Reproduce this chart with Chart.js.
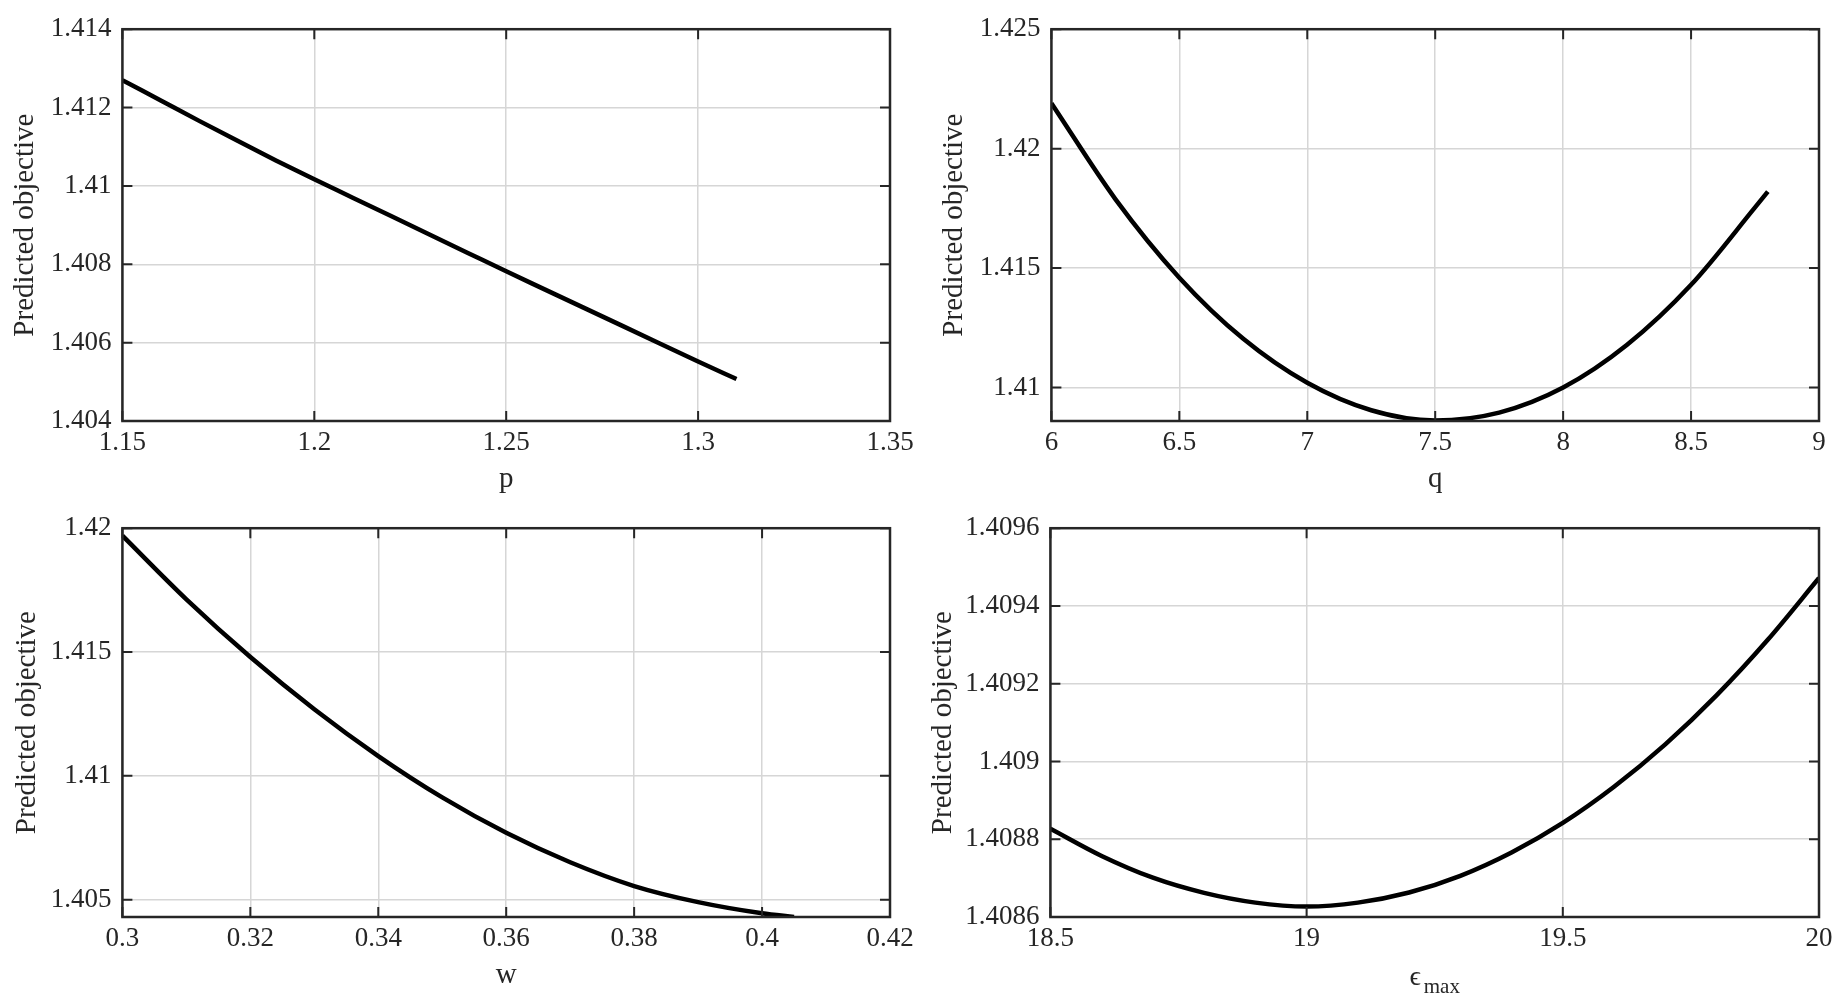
<!DOCTYPE html>
<html>
<head>
<meta charset="utf-8">
<script src="https://cdn.jsdelivr.net/npm/chart.js@4.4.1/dist/chart.umd.min.js"></script>
<style>
  html, body { margin: 0; padding: 0; background: #fff; }
  body { width: 1847px; height: 1007px; position: relative; overflow: hidden; }
  canvas { position: absolute; }
</style>
</head>
<body>
<canvas id="chartP"></canvas>
<canvas id="chartQ"></canvas>
<canvas id="chartW"></canvas>
<canvas id="chartE"></canvas>
<script>
// ---- data ----
const pValues = [1.15, 1.16, 1.17, 1.18, 1.19, 1.2, 1.21, 1.22, 1.23, 1.24, 1.25, 1.26, 1.27, 1.28, 1.29, 1.3, 1.31];
const pObjective = [1.41270, 1.41218, 1.41166, 1.41115, 1.41065, 1.41017, 1.40970, 1.40923, 1.40876, 1.40829,
  1.40782, 1.40736, 1.40690, 1.40644, 1.40598, 1.40552, 1.40507];
const pTicks = ["1.15", "1.2", "1.25", "1.3", "1.35"];
const pYTicks = ["1.404", "1.406", "1.408", "1.41", "1.412", "1.414"];
const pRange = [1.404, 1.414];

const qValues = [6, 6.25, 6.5, 6.75, 7, 7.25, 7.5, 7.75, 8, 8.25, 8.5, 8.75, 8.8];
const qObjective = [1.4219, 1.41789, 1.4146, 1.41204, 1.4102, 1.40905, 1.40862, 1.40895, 1.4100, 1.41179, 1.4143, 1.41754, 1.4182];
const qTicks = ["6", "6.5", "7", "7.5", "8", "8.5", "9"];
const qYTicks = ["1.41", "1.415", "1.42", "1.425"];
const qRange = [1.4086, 1.425];

const wValues = [0.3, 0.31, 0.32, 0.33, 0.34, 0.35, 0.36, 0.37, 0.38, 0.39, 0.4, 0.405];
const wObjective = [1.4197, 1.41713, 1.4148, 1.41269, 1.4108, 1.40913, 1.4077, 1.40651, 1.40555, 1.4049, 1.40445, 1.4043];
const wTicks = ["0.3", "0.32", "0.34", "0.36", "0.38", "0.4", "0.42"];
const wYTicks = ["1.405", "1.41", "1.415", "1.42"];
const wRange = [1.4043, 1.42];

const eValues = [18.5, 18.6, 18.7, 18.8, 18.9, 19, 19.1, 19.2, 19.3, 19.4, 19.5, 19.6, 19.7, 19.8, 19.9, 20];
const eObjective = [1.408827, 1.408757, 1.408701, 1.408662, 1.408637, 1.408627, 1.408637, 1.408663,
  1.408706, 1.408766, 1.408842, 1.408935, 1.409044, 1.409170, 1.409313, 1.409472];
const eTicks = ["18.5", "19", "19.5", "20"];
const eYTicks = ["1.4086", "1.4088", "1.409", "1.4092", "1.4094", "1.4096"];
const eRange = [1.4086, 1.4096];

// ---- look ----
const FONT = "'Liberation Serif', 'Times New Roman', 'DejaVu Serif', serif";
const INK = "#262626";
const TICK_SIZE = 27;
const TITLE_SIZE = 29;
const PAD_TOP = 22;
const PAD_RIGHT = 40;
const X_AXIS_H = 76;

// MATLAB-like box with inward ticks on all four sides
const boxPlugin = {
  id: "matlabBox",
  afterDraw(chart) {
    const { ctx, chartArea: a, scales } = chart;
    const x = scales.x, y = scales.y;
    ctx.save();
    ctx.strokeStyle = INK;
    ctx.lineWidth = 2;
    ctx.beginPath();
    x.ticks.forEach((t) => {
      const px = x.getPixelForValue(t.value);
      ctx.moveTo(px, a.bottom); ctx.lineTo(px, a.bottom - 10);
      ctx.moveTo(px, a.top); ctx.lineTo(px, a.top + 10);
    });
    y.ticks.forEach((t) => {
      const py = y.getPixelForValue(t.value);
      ctx.moveTo(a.left, py); ctx.lineTo(a.left + 10, py);
      ctx.moveTo(a.right, py); ctx.lineTo(a.right - 10, py);
    });
    ctx.stroke();
    ctx.lineWidth = 2.5;
    ctx.strokeRect(a.left, a.top, a.right - a.left, a.bottom - a.top);
    ctx.restore();
  },
};

// x label with subscript: epsilon_max
const epsLabelPlugin = {
  id: "epsLabel",
  afterDraw(chart) {
    if (!chart.options.plugins.epsLabel || !chart.options.plugins.epsLabel.show) return;
    const { ctx, chartArea: a } = chart;
    ctx.save();
    ctx.fillStyle = INK;
    ctx.textBaseline = "alphabetic";
    ctx.textAlign = "left";
    ctx.font = "28px " + FONT;
    const w1 = ctx.measureText("ϵ").width;
    ctx.font = "21px " + FONT;
    const w2 = ctx.measureText("max").width;
    const gap = 3;
    const x0 = (a.left + a.right) / 2 - (w1 + gap + w2) / 2;
    ctx.font = "28px " + FONT;
    ctx.fillText("ϵ", x0, a.bottom + 68);
    ctx.font = "21px " + FONT;
    ctx.fillText("max", x0 + w1 + gap, a.bottom + 76);
    ctx.restore();
  },
};

function makePanel(id, rect, titleGap, xs, ys, xTicks, yTicks, yRange, xTitle) {
  const [L, T, R, B] = rect;
  const yW = titleGap + (TITLE_SIZE * 1.2) / 2;
  const canvas = document.getElementById(id);
  canvas.width = Math.round(R - L + yW + PAD_RIGHT);
  canvas.height = Math.round(B - T + PAD_TOP + X_AXIS_H);
  canvas.style.left = (L - yW) + "px";
  canvas.style.top = (T - PAD_TOP) + "px";

  const points = xs.map((v, i) => ({ x: v, y: ys[i] }));
  const xVals = xTicks.map(parseFloat);
  const yVals = yTicks.map(parseFloat);

  return new Chart(canvas, {
    type: "line",
    data: {
      datasets: [{
        data: points,
        borderColor: "#000",
        borderWidth: 4.5,
        pointRadius: 0,
        fill: false,
        cubicInterpolationMode: "monotone",
      }],
    },
    options: {
      responsive: false,
      animation: false,
      layout: { padding: { top: PAD_TOP, right: PAD_RIGHT, left: 0, bottom: 0 } },
      plugins: {
        legend: { display: false },
        tooltip: { enabled: false },
        epsLabel: { show: !xTitle },
      },
      scales: {
        x: {
          type: "linear",
          min: xVals[0],
          max: xVals[xVals.length - 1],
          afterBuildTicks: (s) => { s.ticks = xVals.map((v) => ({ value: v })); },
          afterFit: (s) => { s.height = X_AXIS_H; },
          grid: { color: "#d6d6d6", lineWidth: 1.5, drawTicks: false },
          border: { display: false },
          ticks: {
            autoSkip: false,
            maxRotation: 0,
            padding: 6,
            color: INK,
            font: { family: FONT, size: TICK_SIZE },
            callback: (v, i) => xTicks[i],
          },
          title: {
            display: !!xTitle,
            text: xTitle || "",
            color: INK,
            padding: 0,
            font: { family: FONT, size: TITLE_SIZE },
          },
        },
        y: {
          type: "linear",
          min: yRange[0],
          max: yRange[1],
          afterBuildTicks: (s) => { s.ticks = yVals.map((v) => ({ value: v })); },
          afterFit: (s) => { s.width = yW; },
          grid: { color: "#d6d6d6", lineWidth: 1.5, drawTicks: false },
          border: { display: false },
          ticks: {
            autoSkip: false,
            padding: 11,
            color: INK,
            font: { family: FONT, size: TICK_SIZE },
            callback: (v, i) => yTicks[i],
          },
          title: {
            display: true,
            text: "Predicted objective",
            color: INK,
            padding: 0,
            font: { family: FONT, size: TITLE_SIZE },
          },
        },
      },
    },
    plugins: [boxPlugin, epsLabelPlugin],
  });
}

makePanel("chartP", [122, 24, 890, 421], 97, pValues, pObjective, pTicks, pYTicks, pRange, "p");
makePanel("chartQ", [1051, 24, 1819, 421], 97, qValues, qObjective, qTicks, qYTicks, qRange, "q");
makePanel("chartW", [122, 523, 890, 917], 95, wValues, wObjective, wTicks, wYTicks, wRange, "w");
makePanel("chartE", [1050, 523, 1819, 917], 107, eValues, eObjective, eTicks, eYTicks, eRange, null);
</script>
</body>
</html>
